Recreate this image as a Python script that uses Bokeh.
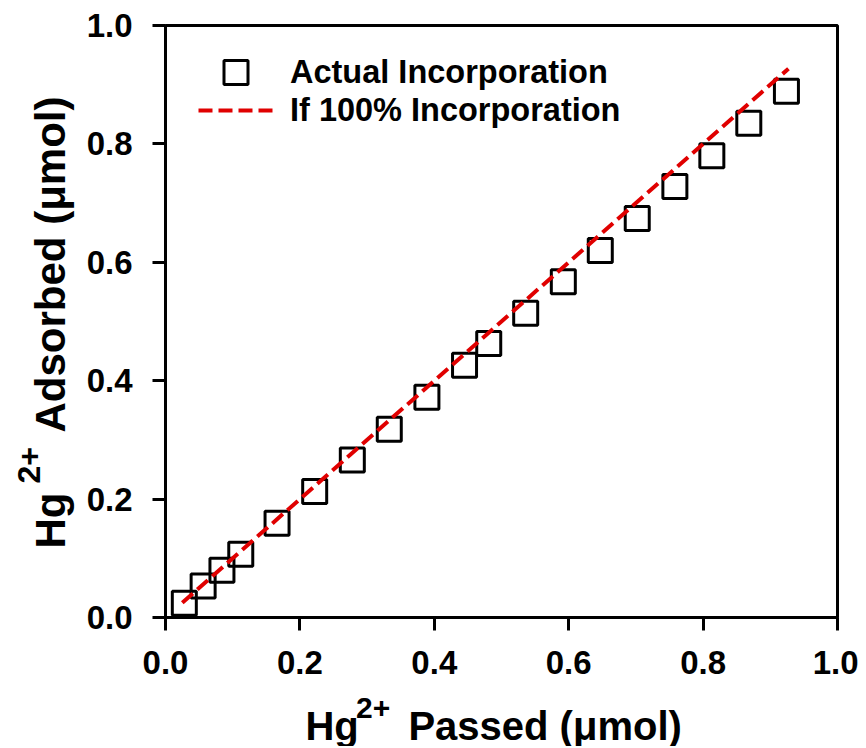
import math
from bokeh.plotting import figure
from bokeh.layouts import row, column
from bokeh.models import FixedTicker, Legend, LegendItem, Range1d
from bokeh.core.properties import value
from bokeh.embed import file_html
from bokeh.resources import INLINE

# ---- data ----
passed = [0.028, 0.056, 0.084, 0.112, 0.166, 0.222, 0.278, 0.333, 0.389, 0.445,
          0.481, 0.536, 0.592, 0.647, 0.702, 0.758, 0.813, 0.868, 0.924]
adsorbed = [0.024, 0.053, 0.080, 0.107, 0.159, 0.213, 0.266, 0.318, 0.372, 0.426,
            0.463, 0.514, 0.567, 0.620, 0.674, 0.728, 0.780, 0.835, 0.889]
ideal_x = [0.025, 0.927]
ideal_y = [0.025, 0.927]
ticks = [0.0, 0.2, 0.4, 0.6, 0.8, 1.0]
tick_labels = ["0.0", "0.2", "0.4", "0.6", "0.8", "1.0"]
series_names = ["Actual Incorporation", "If 100% Incorporation"]
x_title = ["Hg", "2+", "Passed (\u03bcmol)"]
y_title = ["Hg", "2+", "Adsorbed (\u03bcmol)"]

FONT = "Liberation Sans"
LEFT_W = 75
MAIN_W, MAIN_H = 783, 692
BOT_H = 54
TOTAL_H = MAIN_H + BOT_H
SHIFT = 13   # text glyph baseline correction
XOFF = 58    # horizontal correction in the bottom title panel

# ---- main plot ----
p = figure(width=MAIN_W, height=MAIN_H,
           x_range=Range1d(0, 1), y_range=Range1d(0, 1),
           output_backend="svg", toolbar_location=None,
           min_border_left=90, min_border_right=21,
           min_border_top=25, min_border_bottom=75)
p.grid.visible = False
p.background_fill_color = "white"
p.border_fill_color = "white"
p.outline_line_color = "black"
p.outline_line_width = 3

for ax in (p.xaxis[0], p.yaxis[0]):
    ax.ticker = FixedTicker(ticks=ticks)
    ax.major_label_overrides = {t: l for t, l in zip(ticks, tick_labels)}
    ax.axis_line_width = 3
    ax.axis_line_color = "black"
    ax.major_tick_line_width = 3
    ax.major_tick_line_color = "black"
    ax.major_tick_out = 13
    ax.major_tick_in = 0
    ax.minor_tick_out = 0
    ax.minor_tick_in = 0
    ax.major_label_text_font = FONT
    ax.major_label_text_font_style = "bold"
    ax.major_label_text_font_size = "33px"
    ax.major_label_text_color = "black"
    ax.major_label_standoff = 20

r_sq = p.scatter(passed, adsorbed, marker="square", size=24,
                 fill_alpha=0, line_color="black", line_width=3)
r_ln = p.line(ideal_x, ideal_y, line_color="#e00000", line_width=4,
              line_dash="14 6")

common = dict(glyph_width=75, padding=0, margin=0, label_standoff=17,
              label_text_font=FONT, label_text_font_style="bold",
              label_text_font_size="32.5px", label_text_color="black",
              border_line_alpha=0, background_fill_alpha=0)
leg1 = Legend(items=[LegendItem(label=series_names[0], renderers=[r_sq])],
              location=(33, 515), glyph_height=60, **common)
leg2 = Legend(items=[LegendItem(label=series_names[1], renderers=[r_ln])],
              location=(33, 488), glyph_height=38, **common)
p.add_layout(leg1, "center")
p.add_layout(leg2, "center")


def text_panel(w, h):
    f = figure(width=w, height=h, x_range=Range1d(0, w), y_range=Range1d(0, h),
               output_backend="svg", toolbar_location=None,
               x_axis_location=None, y_axis_location=None,
               min_border=0, outline_line_color=None)
    f.grid.visible = False
    f.background_fill_color = "white"
    f.border_fill_color = "white"
    return f


def put(f, x, y, txt, size, angle=0.0):
    f.text(x=[x], y=[y], text=[txt], text_font=value(FONT),
           text_font_style="bold", text_font_size=value(size),
           text_color="black", text_align="left",
           text_baseline="alphabetic", angle=angle)


# ---- x-axis title panel (below the main plot) ----
bot = text_panel(MAIN_W, BOT_H)
put(bot, 296 - LEFT_W - XOFF, 8 + SHIFT, x_title[0], "40px")
put(bot, 355 - LEFT_W - XOFF, 26 + SHIFT, x_title[1], "30px")
put(bot, 416 - LEFT_W - XOFF, 8 + SHIFT, x_title[2], "40px")

# ---- y-axis title panel (left of the main plot) ----
A = math.pi / 2
left = text_panel(LEFT_W, TOTAL_H)
put(left, 63 - SHIFT, TOTAL_H - 548, y_title[0], "42px", A)
put(left, 41 - SHIFT, TOTAL_H - 483, y_title[1], "32px", A)
put(left, 63 - SHIFT, TOTAL_H - 432, y_title[2], "42px", A)

layout = row(left, column(p, bot, spacing=0), spacing=0)

open("out.html", "w").write(file_html(layout, INLINE))
